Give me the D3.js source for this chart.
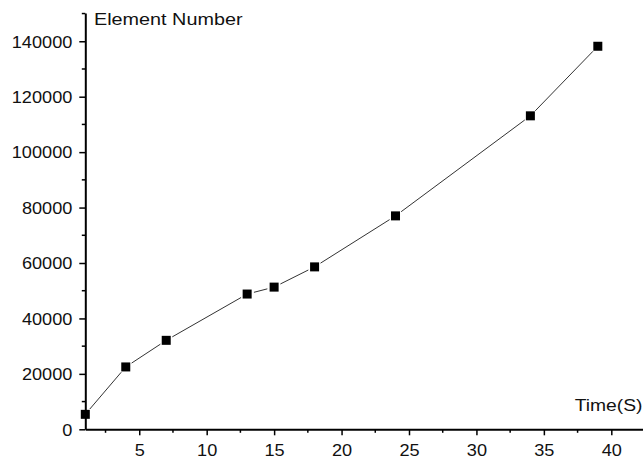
<!DOCTYPE html>
<html>
<head>
<meta charset="utf-8">
<script src="https://cdn.jsdelivr.net/npm/d3@7"></script>
<style>
  body { margin: 0; background: #fff; }
  text { font-family: "Liberation Sans", Arial, sans-serif; fill: #111; }
</style>
</head>
<body>
<div id="wrapper"></div>
<script>
// data
const times = [1, 4, 7, 13, 15, 18, 24, 34, 39];
const elements = [5400, 22500, 32100, 48800, 51300, 58600, 77000, 113100, 138200];
const xTicks = [5, 10, 15, 20, 25, 30, 35, 40];
const yTicks = [0, 20000, 40000, 60000, 80000, 100000, 120000, 140000];

const width = 643, height = 460;
const x0 = 85.3, x1 = 643, yBase = 429.3, yTop = 13;

const svg = d3.select("#wrapper").append("svg")
    .attr("width", width)
    .attr("height", height);

const x = d3.scaleLinear().domain([1, 42.35]).range([x0, x1]);
const y = d3.scaleLinear().domain([0, 150200]).range([yBase, yTop]);

// x axis
const xAxis = d3.axisBottom(x).tickValues(xTicks).tickSize(6).tickSizeOuter(0).tickFormat(d3.format("d"));
const gx = svg.append("g").attr("transform", `translate(0,${yBase})`).call(xAxis);
gx.select(".domain").attr("stroke", "#000").attr("stroke-width", 2);
gx.selectAll(".tick line").attr("stroke", "#000").attr("stroke-width", 1.5);
gx.selectAll(".tick text")
  .attr("font-size", 16.5).attr("dy", 0).attr("y", 26.5)
  .attr("transform", "scale(1.1,1)");

// minor ticks on x
svg.append("g").attr("transform", `translate(0,${yBase})`)
  .selectAll("line").data(d3.range(2.5, 42, 5))
  .join("line")
    .attr("x1", d => x(d)).attr("x2", d => x(d))
    .attr("y1", 0).attr("y2", 3.5)
    .attr("stroke", "#000").attr("stroke-width", 1.5);

// y axis
const yAxis = d3.axisLeft(y).tickValues(yTicks).tickSize(6).tickSizeOuter(0).tickFormat(d3.format("d"));
const gy = svg.append("g").attr("transform", `translate(${x0},0)`).call(yAxis);
gy.select(".domain").attr("stroke", "#000").attr("stroke-width", 2);
gy.selectAll(".tick line").attr("stroke", "#000").attr("stroke-width", 1.5);
gy.selectAll(".tick text")
  .attr("font-size", 16.5).attr("x", -13 / 1.1).attr("dy", "0.35em")
  .attr("transform", "scale(1.1,1)");

// minor ticks on y
svg.append("g").attr("transform", `translate(${x0},0)`)
  .selectAll("line").data(d3.range(10000, 150001, 20000))
  .join("line")
    .attr("x1", 0).attr("x2", -3.5)
    .attr("y1", d => y(d)).attr("y2", d => y(d))
    .attr("stroke", "#000").attr("stroke-width", 1.5);

// axis titles
svg.append("text")
  .attr("transform", "translate(94,25) scale(1.2,1)")
  .attr("font-size", 16.5)
  .text("Element Number");

svg.append("text")
  .attr("transform", "translate(642.5,411) scale(1.17,1)")
  .attr("font-size", 16.5)
  .attr("text-anchor", "end")
  .text("Time(S)");

// line segments, stopped short of each marker
const pts = times.map((t, i) => [x(t), y(elements[i])]);
const gap = 7;
const segs = d3.pairs(pts).map(([a, b]) => {
  const dx = b[0] - a[0], dy = b[1] - a[1];
  const len = Math.hypot(dx, dy);
  const ux = dx / len, uy = dy / len;
  return [a[0] + ux * gap, a[1] + uy * gap, b[0] - ux * gap, b[1] - uy * gap];
});
svg.append("g").selectAll("line").data(segs)
  .join("line")
    .attr("x1", d => d[0]).attr("y1", d => d[1])
    .attr("x2", d => d[2]).attr("y2", d => d[3])
    .attr("stroke", "#333").attr("stroke-width", 1);

// square markers
const ms = 9;
svg.append("g").selectAll("rect").data(times)
  .join("rect")
    .attr("x", d => x(d) - ms / 2)
    .attr("y", (d, i) => y(elements[i]) - ms / 2)
    .attr("width", ms).attr("height", ms)
    .attr("fill", "#000");
</script>
</body>
</html>
